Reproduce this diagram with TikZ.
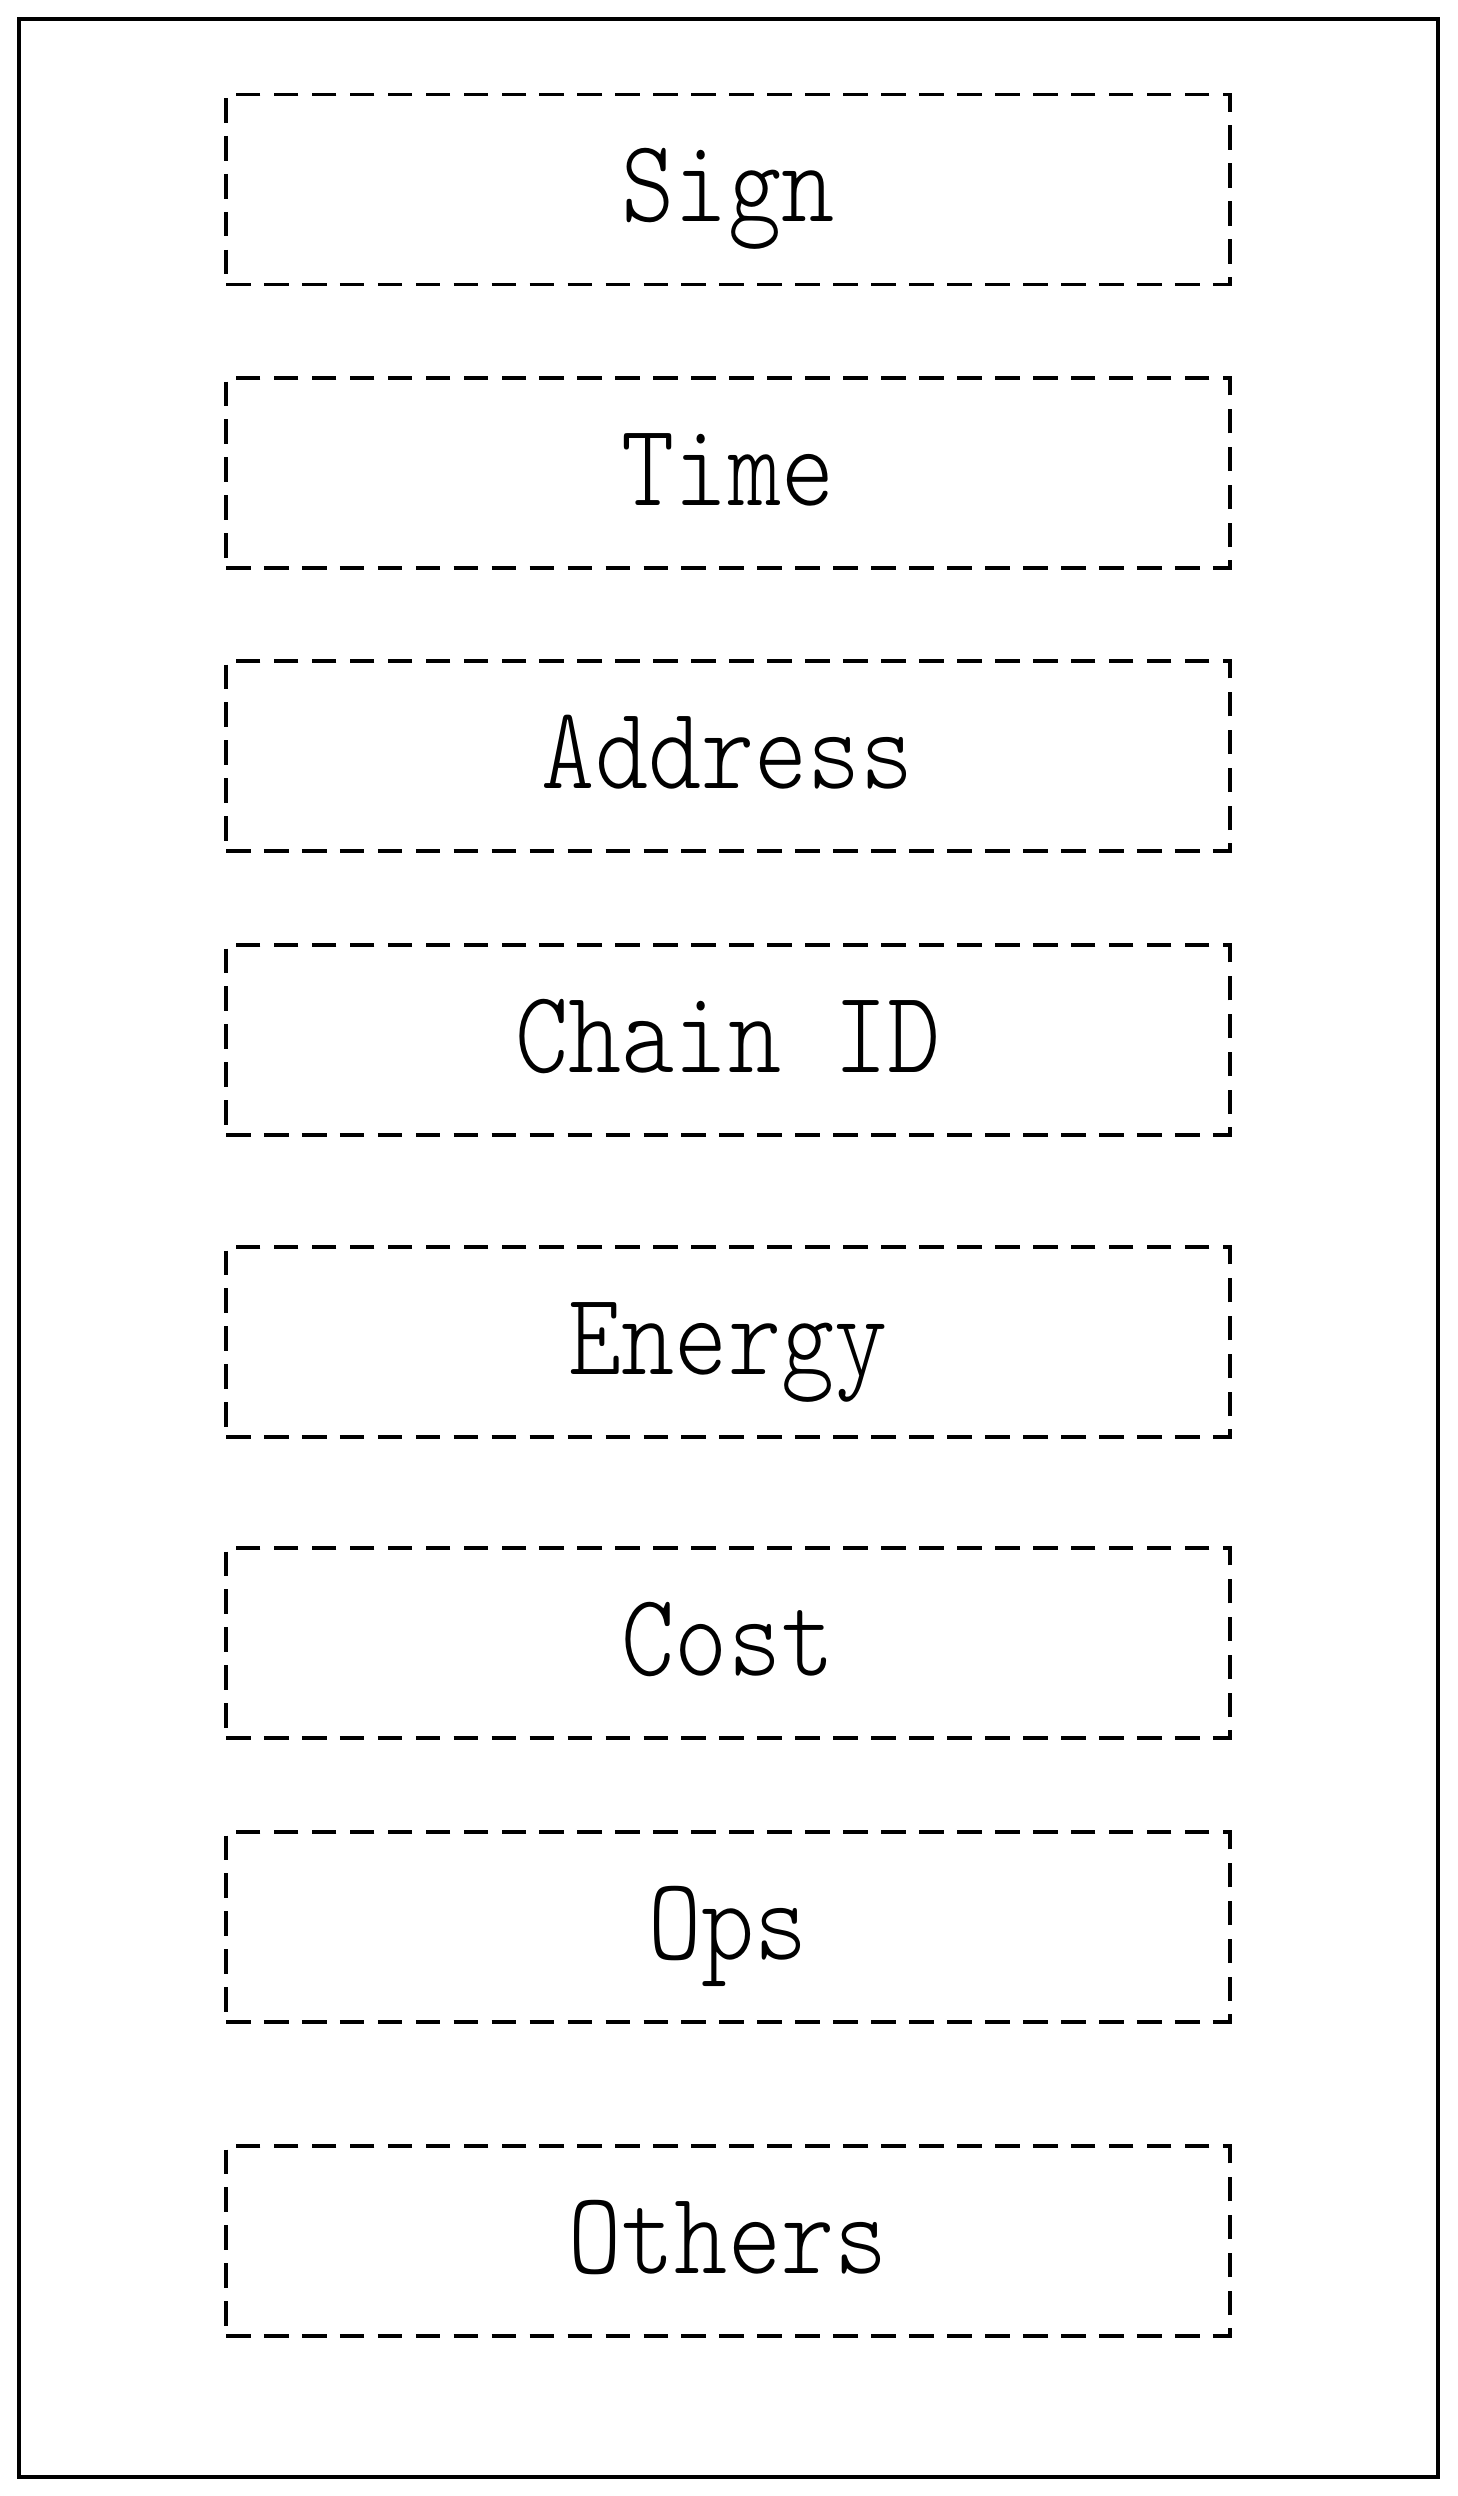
\documentclass[tikz,border=0pt]{standalone}
\usepackage{fontspec}
\newfontfamily\fieldfont[FakeStretch=0.86]{Latin Modern Mono Light}
\usetikzlibrary{positioning}

\tikzset{
    field/.style={draw, dashed, dash pattern=on 7pt off 3.8pt, line width=1pt,
        minimum width=10.04cm, minimum height=1.9cm, inner sep=0pt,
        text height=0.8cm, text depth=0.15cm,
        font=\fieldfont\fontsize{33.5}{40}\selectfont}
}

\begin{document}
\begin{tikzpicture}
        \useasboundingbox (0, 0) rectangle (14.57, 24.96);
        \draw[line width=1pt] (0.19, 0.19) rectangle (14.38, 24.77);

        \node[field] (sign) at (7.28, 23.065) {Sign};
        \node[field] (time) at (7.28, 20.23) {Time};
        \node[field] (address) at (7.28, 17.40) {Address};
        \node[field] (chainid) at (7.28, 14.56) {Chain ID};
        \node[field] (energy) at (7.28, 11.54) {Energy};
        \node[field] (cost) at (7.28, 8.53) {Cost};
        \node[field] (ops) at (7.28, 5.69) {Ops};
        \node[field] (others) at (7.28, 2.55) {Others};
    \end{tikzpicture}
\end{document}
